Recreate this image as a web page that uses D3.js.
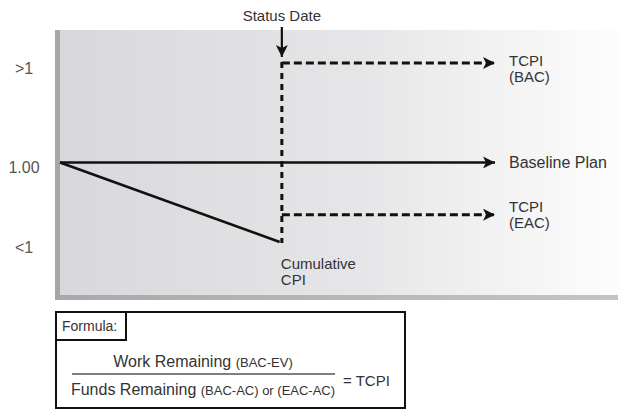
<!DOCTYPE html>
<html>
<head>
<meta charset="utf-8">
<script src="https://cdn.jsdelivr.net/npm/d3@7"></script>
<style>
  body { margin: 0; background: #fff; }
  svg { display: block; font-family: "Liberation Sans", Arial, sans-serif; }
</style>
</head>
<body>
<script>
// index values (y) and time (x, % of project)
var tickValues = [1.2, 1.0, 0.84];
var tickLabels = ['>1', '1.00', '<1'];

var baseline = [{ t: 0, v: 1.0 }, { t: 100, v: 1.0 }];
var cumCpi = [{ t: 0, v: 1.0 }, { t: 50.5, v: 0.84 }];
var tcpiBac = [{ t: 51, v: 1.2 }, { t: 100, v: 1.2 }];
var tcpiEac = [{ t: 51, v: 0.895 }, { t: 100, v: 0.895 }];
var statusDate = 51;

var w = 618, h = 410;

var x = d3.scaleLinear().domain([0, 100]).range([60, 495]);
var y = d3.scaleLinear().domain([0.84, 1.2]).range([242, 63]);

var svg = d3.select('body').append('svg')
    .attr('width', w)
    .attr('height', h);

var defs = svg.append('defs');
var grad = defs.append('linearGradient').attr('id', 'bg')
    .attr('x1', '0%').attr('x2', '100%').attr('y1', '0%').attr('y2', '0%');
grad.append('stop').attr('offset', '0%').attr('stop-color', '#d8d8dc');
grad.append('stop').attr('offset', '55%').attr('stop-color', '#e6e6e8');
grad.append('stop').attr('offset', '100%').attr('stop-color', '#fdfdfd');

var bgrad = defs.append('linearGradient').attr('id', 'bord')
    .attr('x1', '0%').attr('x2', '100%');
bgrad.append('stop').attr('offset', '0%').attr('stop-color', '#a9a9ac');
bgrad.append('stop').attr('offset', '100%').attr('stop-color', '#c4c4c4');

defs.append('marker')
    .attr('id', 'arrow')
    .attr('viewBox', '0 0 10 10')
    .attr('refX', 10).attr('refY', 5)
    .attr('markerWidth', 14).attr('markerHeight', 12)
    .attr('markerUnits', 'userSpaceOnUse')
    .attr('orient', 'auto')
    .append('path')
    .attr('d', 'M0,0 L10,5 L0,10 L2.5,5 Z')
    .attr('fill', '#111');

// plot panel
svg.append('rect')
    .attr('x', 55).attr('y', 30)
    .attr('width', w - 55).attr('height', 270)
    .attr('fill', 'url(#bg)');
svg.append('rect')
    .attr('x', 55).attr('y', 295)
    .attr('width', w - 55).attr('height', 5)
    .attr('fill', 'url(#bord)');
svg.append('rect')
    .attr('x', 55).attr('y', 30)
    .attr('width', 5).attr('height', 270)
    .attr('fill', '#a6a6a9');

// y labels
svg.selectAll('.ylab')
    .data(tickValues)
    .enter().append('text')
    .attr('class', 'ylab')
    .attr('x', 24)
    .attr('y', function (d) { return y(d) + 11; })
    .attr('text-anchor', 'middle')
    .attr('font-size', 16)
    .attr('fill', '#555')
    .text(function (d, i) { return tickLabels[i]; });

var line = d3.line()
    .x(function (d) { return x(d.t); })
    .y(function (d) { return y(d.v); });

// solid lines
svg.append('path')
    .datum(baseline)
    .attr('d', line)
    .attr('fill', 'none')
    .attr('stroke', '#111')
    .attr('stroke-width', 2.6)
    .attr('marker-end', 'url(#arrow)');

svg.append('path')
    .datum(cumCpi)
    .attr('d', line)
    .attr('fill', 'none')
    .attr('stroke', '#111')
    .attr('stroke-width', 2.6);

// status date vertical dashed
svg.append('line')
    .attr('x1', x(statusDate)).attr('x2', x(statusDate))
    .attr('y1', y(1.2) - 1).attr('y2', y(0.84) + 1)
    .attr('stroke', '#111')
    .attr('stroke-width', 3)
    .attr('stroke-dasharray', '6,5');

// TCPI dashed
[tcpiBac, tcpiEac].forEach(function (s) {
    svg.append('path')
        .datum(s)
        .attr('d', line)
        .attr('fill', 'none')
        .attr('stroke', '#111')
        .attr('stroke-width', 3)
        .attr('stroke-dasharray', '8,4')
        .attr('marker-end', 'url(#arrow)');
});

// status date arrow
svg.append('line')
    .attr('x1', x(statusDate)).attr('x2', x(statusDate))
    .attr('y1', 27).attr('y2', 57)
    .attr('stroke', '#111')
    .attr('stroke-width', 2.2)
    .attr('marker-end', 'url(#arrow)');

svg.append('text')
    .attr('x', x(statusDate))
    .attr('y', 21)
    .attr('text-anchor', 'middle')
    .attr('font-size', 15)
    .attr('fill', '#333')
    .text('Status Date');

// right labels
svg.append('text')
    .attr('x', 509).attr('y', y(1.0) + 6)
    .attr('font-size', 16)
    .attr('fill', '#333')
    .text('Baseline Plan');

function twoLine(x0, y0, a, b, size, gap) {
    svg.append('text')
        .attr('x', x0).attr('y', y0)
        .attr('font-size', size)
        .attr('fill', '#333')
        .text(a);
    svg.append('text')
        .attr('x', x0).attr('y', y0 + gap)
        .attr('font-size', size)
        .attr('fill', '#333')
        .text(b);
}
twoLine(509, y(1.2) + 3, 'TCPI', '(BAC)', 15, 16);
twoLine(509, y(0.895) - 3, 'TCPI', '(EAC)', 15, 16);
twoLine(x(statusDate) - 1, y(0.84) + 27, 'Cumulative', 'CPI', 15, 16);

// formula box
var box = svg.append('g');
box.append('rect')
    .attr('x', 56).attr('y', 312)
    .attr('width', 349).attr('height', 96)
    .attr('fill', '#fff')
    .attr('stroke', '#111')
    .attr('stroke-width', 2);
box.append('rect')
    .attr('x', 56).attr('y', 312)
    .attr('width', 70).attr('height', 28)
    .attr('fill', '#fff')
    .attr('stroke', '#111')
    .attr('stroke-width', 2);
box.append('text')
    .attr('x', 62).attr('y', 331)
    .attr('font-size', 14)
    .attr('fill', '#333')
    .text('Formula:');

var num = box.append('text')
    .attr('x', 203).attr('y', 367)
    .attr('text-anchor', 'middle')
    .attr('font-size', 16)
    .attr('fill', '#333');
num.append('tspan').text('Work Remaining ');
num.append('tspan').attr('font-size', 13).text('(BAC-EV)');

box.append('line')
    .attr('x1', 72).attr('x2', 335)
    .attr('y1', 374).attr('y2', 374)
    .attr('stroke', '#555')
    .attr('stroke-width', 1.5);

var den = box.append('text')
    .attr('x', 203).attr('y', 395)
    .attr('text-anchor', 'middle')
    .attr('font-size', 16)
    .attr('fill', '#333');
den.append('tspan').text('Funds Remaining ');
den.append('tspan').attr('font-size', 13).text('(BAC-AC) or (EAC-AC)');

box.append('text')
    .attr('x', 343).attr('y', 386)
    .attr('font-size', 15)
    .attr('fill', '#333')
    .text('= TCPI');
</script>
</body>
</html>
